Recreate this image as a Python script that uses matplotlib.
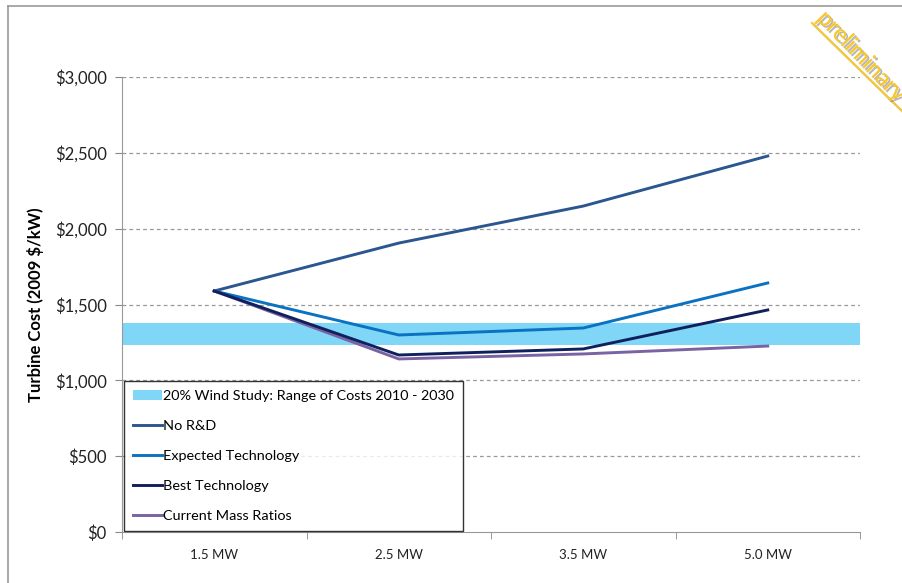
import matplotlib.pyplot as plt
from matplotlib.lines import Line2D
from matplotlib.patches import Patch
import matplotlib.patheffects as pe

# ==================== DATA ====================

categories = ['1.5 MW', '2.5 MW', '3.5 MW', '5.0 MW']
no_rd = [1589, 1905, 2149, 2479]
expected_tech = [1589, 1299, 1345, 1642]
best_tech = [1589, 1167, 1207, 1464]
current_mass = [1589, 1141, 1174, 1226]
band_low = 1233
band_high = 1378
y_ticks = [0, 500, 1000, 1500, 2000, 2500, 3000]
y_tick_labels = ['$0', '$500', '$1,000', '$1,500', '$2,000', '$2,500', '$3,000']

# ==================== PLOT ====================

plt.rcParams['font.family'] = ['Lato', 'DejaVu Sans']

W, H = 902, 583
fig = plt.figure(figsize=(W / 100, H / 100), dpi=100)
ax = fig.add_axes([122 / W, 1 - 532 / H, (860 - 122) / W, (532 - 77) / H])

x = list(range(len(categories)))

# range band across whole plot
ax.axhspan(band_low, band_high, color='#7FD6F7', zorder=1, lw=0)

ax.plot(x, no_rd, color='#2B5690', lw=2.1, zorder=3)
ax.plot(x, expected_tech, color='#0A72C2', lw=2.1, zorder=3)
ax.plot(x, current_mass, color='#7B62A3', lw=2.1, zorder=3)
ax.plot(x, best_tech, color='#10205C', lw=2.1, zorder=3)

ax.set_xlim(-0.5, len(categories) - 0.5)
ax.set_ylim(0, 3000)

ax.set_yticks(y_ticks)
ax.set_yticklabels(y_tick_labels, fontsize=12, color='#222222')
ax.set_xticks(x)
ax.set_xticklabels(categories, fontsize=9.5, color='#222222')
ax.tick_params(axis='x', length=0, pad=12)
ax.set_xticks([i - 0.5 for i in range(len(categories) + 1)], minor=True)
ax.tick_params(axis='x', which='minor', length=5, color='#888888')
ax.tick_params(axis='y', length=5, color='#888888', pad=6)

for yv in y_ticks[1:]:
    ax.axhline(yv, color='#999999', lw=0.9, ls=(0, (3, 2.5)), zorder=0.5)

for s in ['top', 'right']:
    ax.spines[s].set_visible(False)
ax.spines['left'].set_color('#999999')
ax.spines['bottom'].set_color('#999999')

ax.set_ylabel('Turbine Cost (2009 $/kW)', fontsize=12, fontweight='bold',
              labelpad=8)

handles = [
    Patch(facecolor='#7FD6F7', edgecolor='none'),
    Line2D([0], [0], color='#2B5690', lw=2.1),
    Line2D([0], [0], color='#0A72C2', lw=2.1),
    Line2D([0], [0], color='#10205C', lw=2.1),
    Line2D([0], [0], color='#7B62A3', lw=2.1),
]
labels = ['20% Wind Study: Range of Costs 2010 - 2030', 'No R&D',
          'Expected Technology', 'Best Technology', 'Current Mass Ratios']
leg = ax.legend(handles, labels, loc='lower left',
                bbox_to_anchor=(0.003, 0.002), fontsize=10.4,
                frameon=True, fancybox=False, edgecolor='black',
                handlelength=2.0, handletextpad=0.1, labelspacing=1.25,
                borderpad=0.6, borderaxespad=0)
leg.get_frame().set_linewidth(1.0)
leg.set_zorder(5)

# figure border (left and top)
fig.add_artist(Line2D([8 / W, 8 / W], [0, 1 - 6 / H], color='#999999', lw=1.2))
fig.add_artist(Line2D([8 / W, 1], [1 - 6 / H, 1 - 6 / H], color='#999999', lw=1.2))

# "preliminary" stamp
stamp = fig.text(816 / W, 1 - 19 / H, 'preliminary', fontsize=17,
                 color='#F8C832', rotation=-46, rotation_mode='anchor',
                 ha='left', va='baseline',
                 path_effects=[pe.withSimplePatchShadow(offset=(1.5, -1.5),
                                                        shadow_rgbFace='#888888',
                                                        alpha=0.6),
                               pe.Normal()])
fig.add_artist(Line2D([812 / W, 1], [1 - 23 / H, 1 - 111 / H],
                      color='#F8C832', lw=1.5,
                      path_effects=[pe.SimpleLineShadow(offset=(1.5, -1.5),
                                                        shadow_color='#888888',
                                                        alpha=0.6),
                                    pe.Normal()]))

fig.savefig('out.png', dpi=100)
